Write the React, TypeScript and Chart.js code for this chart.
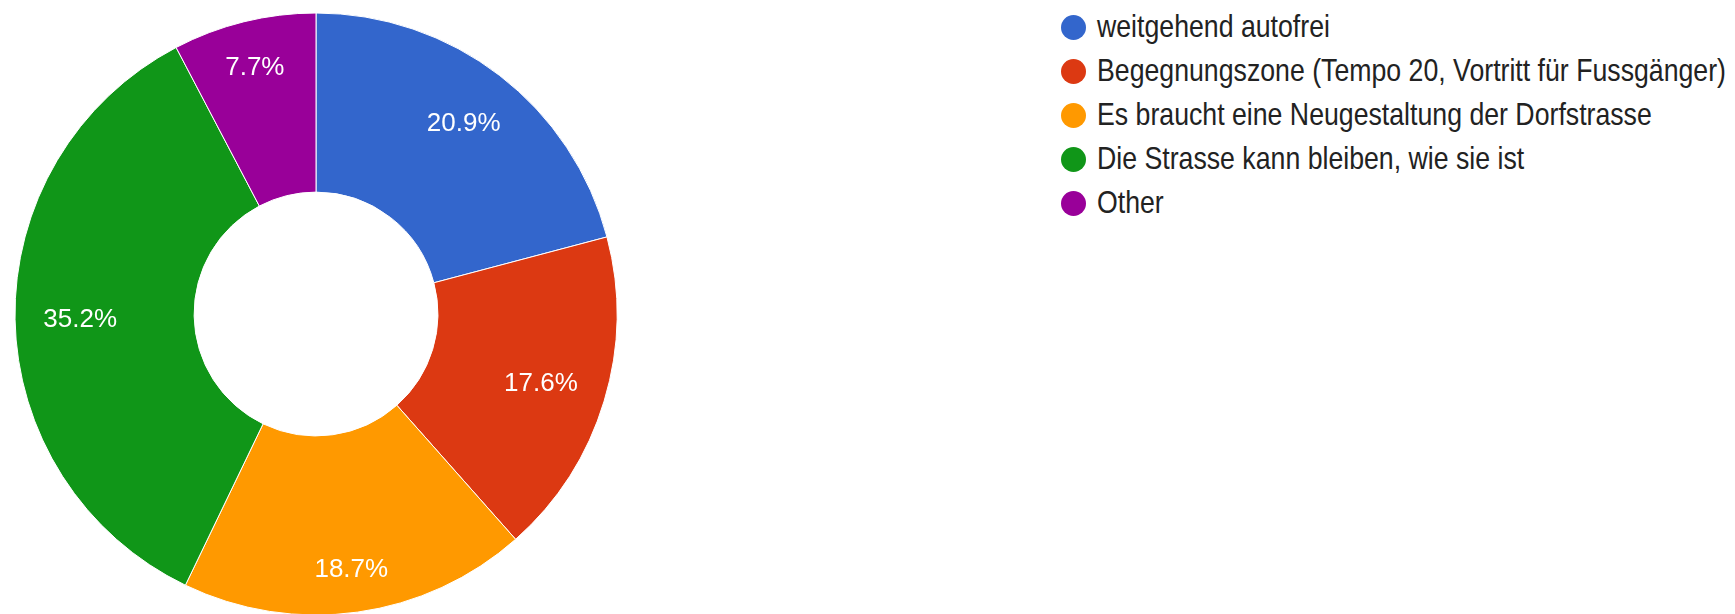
import React, { useEffect, useRef } from "react";
import { Chart, registerables } from "chart.js";

Chart.register(...registerables);

const categories = [
  "weitgehend autofrei",
  "Begegnungszone (Tempo 20, Vortritt für Fussgänger)",
  "Es braucht eine Neugestaltung der Dorfstrasse",
  "Die Strasse kann bleiben, wie sie ist",
  "Other",
];
const percentages = [20.9, 17.6, 18.7, 35.2, 7.7];
const sliceColors = ["#3366cc", "#dc3912", "#ff9900", "#109618", "#990099"];

const LABEL_FONT = 26;
const FONT_FAMILY = '"Liberation Sans", Arial, sans-serif';

const sliceLabels = {
  id: "sliceLabels",
  afterDatasetsDraw(chart: any) {
    const ctx = chart.ctx as CanvasRenderingContext2D;
    const meta = chart.getDatasetMeta(0);
    const ds = chart.data.datasets[0];
    ctx.save();
    ctx.font = `${LABEL_FONT}px ${FONT_FAMILY}`;
    ctx.fillStyle = "#ffffff";
    ctx.textAlign = "center";
    ctx.textBaseline = "alphabetic";
    meta.data.forEach((arc: any, i: number) => {
      const { x, y, startAngle, endAngle, outerRadius } = arc.getProps(
        ["x", "y", "startAngle", "endAngle", "outerRadius"],
        true
      );
      const mid = (startAngle + endAngle) / 2;
      const ux = Math.cos(mid);
      const uy = Math.sin(mid);
      const text = (ds.data[i] as number).toFixed(1) + "%";
      const hw = ctx.measureText(text).width / 2;
      const hh = LABEL_FONT * 0.358;
      const D = outerRadius - 28;
      const b = Math.abs(ux) * hw + Math.abs(uy) * hh;
      const c = hw * hw + hh * hh - D * D;
      const r = -b + Math.sqrt(b * b - c);
      const cx = x + ux * r;
      const cy = y + uy * r;
      ctx.fillText(text, cx, cy + hh);
    });
    ctx.restore();
  },
};

export default function App() {
  const canvasRef = useRef<HTMLCanvasElement | null>(null);

  useEffect(() => {
    if (!canvasRef.current) return;
    const chart = new Chart(canvasRef.current, {
      type: "doughnut",
      data: {
        labels: categories,
        datasets: [
          {
            data: percentages,
            backgroundColor: sliceColors,
            borderColor: "#ffffff",
            borderWidth: 1,
          },
        ],
      },
      options: {
        responsive: true,
        maintainAspectRatio: false,
        animation: false,
        radius: 301,
        cutout: "40.5%",
        layout: { padding: 0 },
        plugins: {
          legend: { display: false },
          tooltip: { enabled: false },
        },
      },
      plugins: [sliceLabels],
    });
    return () => chart.destroy();
  }, []);

  return (
    <div
      style={{
        position: "fixed",
        left: 0,
        top: 0,
        width: 1735,
        height: 614,
        overflow: "hidden",
        background: "#ffffff",
        fontFamily: FONT_FAMILY,
      }}
    >
      <div style={{ position: "absolute", left: 0, top: 0, width: 632, height: 628 }}>
        <canvas ref={canvasRef} />
      </div>
      {categories.map((cat, i) => (
        <div
          key={cat}
          style={{
            position: "absolute",
            left: 1061,
            top: 5 + i * 44,
            height: 44,
            display: "flex",
            alignItems: "center",
            whiteSpace: "nowrap",
          }}
        >
          <span
            style={{
              display: "inline-block",
              width: 25,
              height: 25,
              borderRadius: "50%",
              background: sliceColors[i],
            }}
          />
          <span
            style={{
              display: "inline-block",
              marginLeft: 11,
              fontSize: 26.7,
              color: "#222222",
              lineHeight: "30px",
              transform: "scaleY(1.15)",
            }}
          >
            {cat}
          </span>
        </div>
      ))}
    </div>
  );
}
